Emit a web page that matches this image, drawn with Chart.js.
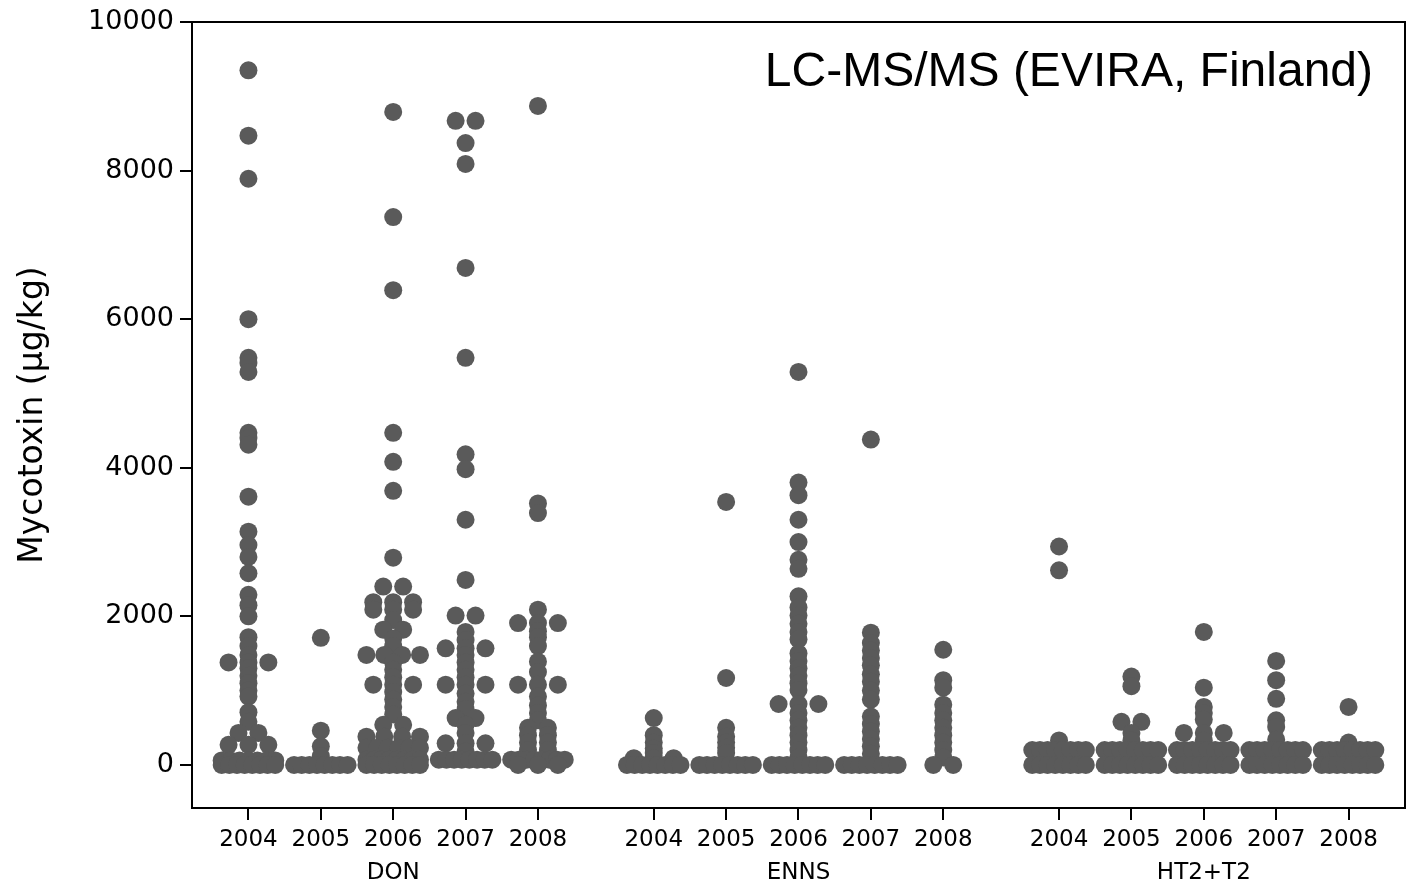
<!DOCTYPE html>
<html lang="en">
<head>
<meta charset="UTF-8">
<title>Mycotoxin LC-MS/MS dot plot</title>
<style>
  html, body { margin: 0; padding: 0; background: #fff; overflow: hidden; }
  #chart { display: block; }
</style>
</head>
<body>
<canvas id="chart" width="1414" height="885"></canvas>

<script src="https://cdn.jsdelivr.net/npm/chart.js@4.4.1/dist/chart.umd.min.js"></script>
<script>
// categories and years on the x axis
const CATEGORIES = ['DON', 'ENNS', 'HT2+T2'];
const YEARS = ['2004', '2005', '2006', '2007', '2008'];
const Y_TICKS = [0, 2000, 4000, 6000, 8000, 10000];
const TITLE = 'LC-MS/MS (EVIRA, Finland)';

// mycotoxin values (µg/kg); equal values sit side by side
const DON_2004 = [9350, 8470, 7890, 6000, 5480, 5410, 5290, 4470, 4400, 4310, 3610, 3140, 2960, 2800, 2580,
  2290, 2150, 2000, 1720, 1600, 1480, 1380, 1380, 1380, 1300, 1200, 1100, 1000, 920, 710, 580, 430, 430,
  270, 270, 270, 60, 60, 60, 60, 60, 60, 60, 0, 0, 0, 0, 0, 0, 0, 0];
const DON_2005 = [1710, 460, 250, 120, 0, 0, 0, 0, 0, 0, 0, 0];
const DON_2006 = [8790, 7375, 6390, 4470, 4080, 3690, 2790, 2400, 2400, 2190, 2190, 2190, 2090, 2090, 2090,
  1950, 1820, 1820, 1700, 1600, 1480, 1480, 1480, 1480, 1380, 1280, 1180, 1080, 1080, 1080, 980, 880, 780,
  680, 540, 540, 380, 380, 380, 380, 230, 230, 230, 230, 230, 230, 70, 70, 70, 70, 70, 70, 70, 70,
  0, 0, 0, 0, 0, 0, 0, 0];
const DON_2007 = [8670, 8670, 8370, 8090, 6690, 5480, 4180, 3980, 3300, 2490, 2010, 2010, 1790, 1680,
  1570, 1570, 1570, 1480, 1380, 1280, 1180, 1080, 1080, 1080, 960, 850, 750, 630, 630, 540, 430,
  290, 290, 290, 180, 70, 70, 70, 70, 70, 70, 70, 70];
const DON_2008 = [8870, 3520, 3390, 2090, 1910, 1910, 1910, 1800, 1720, 1600, 1390, 1250, 1080, 1080, 1080,
  920, 800, 700, 600, 500, 500, 400, 400, 300, 300, 200, 200, 70, 70, 70, 70, 70, 70, 70, 70, 0, 0, 0];

const ENNS_2004 = [630, 400, 300, 220, 160, 90, 90, 90, 0, 0, 0, 0, 0, 0, 0, 0];
const ENNS_2005 = [3540, 1170, 500, 380, 300, 230, 160, 0, 0, 0, 0, 0, 0, 0, 0];
const ENNS_2006 = [5290, 3800, 3630, 3300, 3000, 2760, 2640, 2270, 2120, 2010, 1900, 1790, 1690, 1500, 1400,
  1300, 1200, 1100, 1010, 820, 820, 820, 700, 600, 500, 400, 300, 200, 100, 0, 0, 0, 0, 0, 0, 0, 0];
const ENNS_2007 = [4380, 1780, 1640, 1540, 1440, 1340, 1220, 1120, 1000, 880, 650, 550, 450, 350, 250, 150,
  0, 0, 0, 0, 0, 0, 0, 0];
const ENNS_2008 = [1550, 1140, 1040, 810, 700, 600, 500, 400, 300, 200, 100, 0, 0];

const HT2_2004 = [2940, 2620, 330, 200, 200, 200, 200, 200, 200, 200, 200, 0, 0, 0, 0, 0, 0, 0, 0];
const HT2_2005 = [1190, 1060, 580, 580, 430, 330, 200, 200, 200, 200, 200, 200, 200, 200, 0, 0, 0, 0, 0, 0, 0, 0];
const HT2_2006 = [1790, 1040, 780, 700, 610, 430, 430, 430, 330, 200, 200, 200, 200, 200, 200, 200, 200,
  0, 0, 0, 0, 0, 0, 0, 0];
const HT2_2007 = [1400, 1140, 890, 600, 510, 340, 200, 200, 200, 200, 200, 200, 200, 200, 0, 0, 0, 0, 0, 0, 0, 0];
const HT2_2008 = [780, 300, 200, 200, 200, 200, 200, 200, 200, 200, 0, 0, 0, 0, 0, 0, 0, 0];

const GROUPS = [
  [DON_2004, DON_2005, DON_2006, DON_2007, DON_2008],
  [ENNS_2004, ENNS_2005, ENNS_2006, ENNS_2007, ENNS_2008],
  [HT2_2004, HT2_2005, HT2_2006, HT2_2007, HT2_2008]
];

// x layout: one unit per year, a wider gap between the toxins
const CAT_GAP = 5.6;
const xPos = (c, y) => 1 + c * CAT_GAP + y;
const STEP = 0.275;       // spacing of equal values, in x units (~20px)
const HALF_WIDTH = 0.37;  // widest spread either side of the column

// spread equal values horizontally around the column centre
function swarm(values, centre) {
  const counts = {}, seen = {};
  values.forEach(v => { counts[v] = (counts[v] || 0) + 1; });
  return values.map(v => {
    const k = counts[v];
    const i = seen[v] = (seen[v] === undefined ? 0 : seen[v] + 1);
    const step = k > 1 ? Math.min(STEP, 2 * HALF_WIDTH / (k - 1)) : 0;
    return { x: centre + (i - (k - 1) / 2) * step, y: v };
  });
}

const points = [];
const tickPos = [];
GROUPS.forEach((years, c) => {
  years.forEach((vals, y) => {
    tickPos.push(xPos(c, y));
    points.push(...swarm(vals, xPos(c, y)));
  });
});

// box round the plot and the title in the top right corner
const framePlugin = {
  id: 'frame',
  afterDraw(chart) {
    const { ctx, chartArea: a } = chart;
    ctx.save();
    ctx.strokeStyle = '#000';
    ctx.lineWidth = 2;
    ctx.strokeRect(a.left, a.top, a.right - a.left, a.bottom - a.top);
    ctx.fillStyle = '#000';
    ctx.font = '48px "Liberation Sans", Arial, sans-serif';
    ctx.textAlign = 'right';
    ctx.textBaseline = 'alphabetic';
    ctx.fillText(TITLE, a.right - 32, 86);
    ctx.restore();
  }
};

new Chart(document.getElementById('chart'), {
  type: 'scatter',
  data: {
    datasets: [{
      data: points,
      backgroundColor: '#5a5a5a',
      borderWidth: 0,
      pointRadius: 9,
      pointHoverRadius: 9
    }]
  },
  options: {
    responsive: false,
    animation: false,
    events: [],
    devicePixelRatio: 1,
    layout: { padding: { left: 0, right: 2, top: 22, bottom: 0 } },
    plugins: { legend: { display: false }, tooltip: { enabled: false } },
    scales: {
      x: {
        type: 'linear',
        min: 0.22,
        max: 16.98,
        afterBuildTicks: s => { s.ticks = tickPos.map(v => ({ value: v })); },
        afterFit: s => { s.height = 77; s.paddingLeft = 0; s.paddingRight = 0; },
        ticks: {
          autoSkip: false,
          maxRotation: 0,
          color: '#000',
          padding: 3,
          font: { family: 'DejaVu Sans', size: 23, lineHeight: 1.45 },
          callback: (v, i) => {
            const year = YEARS[i % 5];
            return i % 5 === 2 ? [year, CATEGORIES[Math.floor(i / 5)]] : year;
          }
        },
        grid: { drawOnChartArea: false, drawTicks: true, tickLength: 12, color: '#000', lineWidth: 2 },
        border: { color: '#000', width: 2 }
      },
      y: {
        min: -580,
        max: 10000,
        afterBuildTicks: s => { s.ticks = Y_TICKS.map(v => ({ value: v })); },
        afterFit: s => { s.width = 192; s.paddingTop = 0; s.paddingBottom = 0; },
        ticks: {
          color: '#000',
          padding: 6,
          font: { family: 'DejaVu Sans', size: 27 },
          callback: v => String(v)
        },
        grid: { drawOnChartArea: false, drawTicks: true, tickLength: 12, color: '#000', lineWidth: 2 },
        border: { color: '#000', width: 2 },
        title: {
          display: true,
          text: 'Mycotoxin (µg/kg)',
          color: '#000',
          font: { family: 'DejaVu Sans', size: 33 },
          padding: { top: 14, bottom: 0 }
        }
      }
    }
  },
  plugins: [framePlugin]
});
</script>
</body>
</html>
